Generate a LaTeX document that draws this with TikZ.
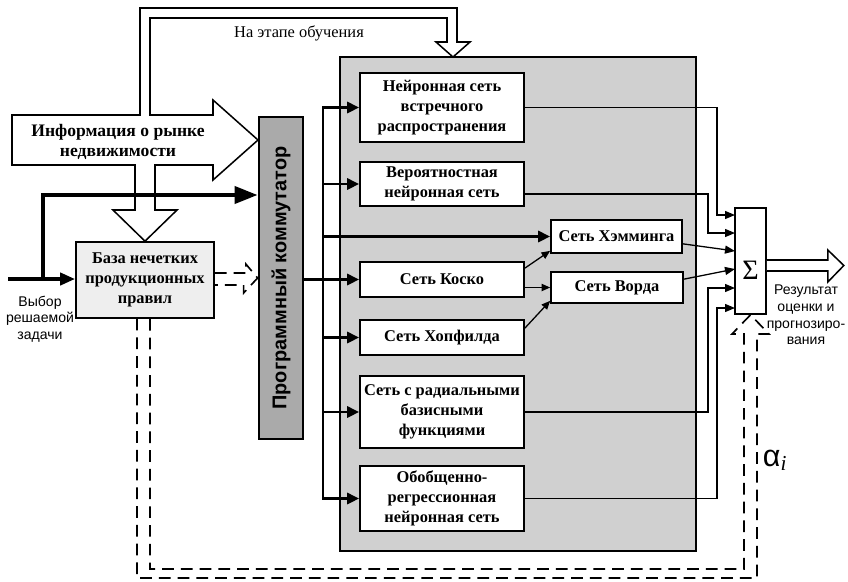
\documentclass[tikz,border=0pt]{standalone}
\usepackage{fontspec}
\setmainfont{Liberation Serif}
\setsansfont{Liberation Sans}
\usetikzlibrary{arrows.meta, positioning, calc}

\definecolor{poolgray}{HTML}{D0D0D0}
\definecolor{switchgray}{HTML}{AAAAAA}
\definecolor{basegray}{HTML}{EEEEEE}

\begin{document}
\begin{tikzpicture}[
        x=0.3mm, y=-0.3mm,
        box/.style={draw, line width=1.4pt, fill=white, inner sep=0pt,
                     font=\fontsize{14}{17}\selectfont\bfseries, align=center},
        lbl/.style={font=\sffamily\fontsize{12}{14.2}\selectfont, align=center},
        bus/.style={-{Triangle[length=3.6mm, width=3.3mm]}, line width=2.4pt},
        feed/.style={-{Triangle[length=3mm, width=2.4mm]}, line width=1.1pt},
        sml/.style={-{Triangle[length=2.6mm, width=2.2mm]}, line width=1.1pt},
        big/.style={line width=3.4pt},
        hollow/.style={line width=1.3pt, fill=white},
        dsh/.style={line width=1.4pt, dash pattern=on 10pt off 6pt}
      ]
        \useasboundingbox (0,0) rectangle (848,581);

        \node[draw, line width=1.4pt, fill=poolgray, inner sep=0pt,
              minimum width=106.8mm, minimum height=148.2mm] (pool) at (518,304) {};
        \node[draw, line width=2.4pt, fill=switchgray, inner sep=0pt,
              minimum width=13.2mm, minimum height=96.6mm,
              font=\sffamily\bfseries\fontsize{17}{17}\selectfont] (sw) at (281,278)
              {\rotatebox{90}{Программный коммутатор}};
        \node[box, fill=basegray, minimum width=41.4mm, minimum height=22.8mm] (kb) at (145,280)
              {База нечетких\\продукционных\\правил};

        \node[box, minimum width=49.2mm, minimum height=20.7mm] (nv) at (442,107.5)
              {Нейронная сеть\\встречного\\распространения};
        \node[box, minimum width=49.2mm, minimum height=13.2mm] (vr) at (442,184)
              {Вероятностная\\нейронная сеть};
        \node[box, minimum width=39.3mm, minimum height=9.9mm] (hm) at (616.5,236.5) {Сеть Хэмминга};
        \node[box, minimum width=49.2mm, minimum height=10.5mm] (ks) at (442,279.5) {Сеть Коско};
        \node[box, minimum width=39.6mm, minimum height=9.3mm] (vd) at (617,287.5) {Сеть Ворда};
        \node[box, minimum width=49.2mm, minimum height=10.5mm] (hp) at (442,337.5) {Сеть Хопфилда};
        \node[box, minimum width=49.2mm, minimum height=21.6mm] (rb) at (442,412)
              {Сеть с радиальными\\базисными\\функциями};
        \node[box, minimum width=49.2mm, minimum height=19.5mm] (gr) at (442,498.5)
              {Обобщенно-\\регрессионная\\нейронная сеть};
        \node[box, minimum width=9.3mm, minimum height=31.8mm] (sg) at (750.5,261) {};
        \node[font=\fontsize{24}{24}\selectfont] (sgl) at ([yshift=-2.7mm]sg.center) {Σ};

        \draw[hollow] (12,115) -- (140,115) -- (140,8) -- (457,8) -- (457,42) -- (470,42)
              -- (453,57) -- (436,42) -- (447,42) -- (447,18) -- (150,18) -- (150,115)
              -- (213,115) -- (213,100) -- (258,140) -- (213,180) -- (213,165)
              -- (155,165) -- (155,210) -- (177,210) -- (kb.north) -- (113,210)
              -- (135,210) -- (135,165) -- (12,165) -- cycle;
        \node[font=\fontsize{15}{17}\selectfont\bfseries, align=center] (inf) at (118,142)
              {Информация о рынке\\недвижимости};
        \node[font=\fontsize{14}{16}\selectfont] (tr) at (299,33) {На этапе обучения};

        \coordinate (in) at (8,279);
        \coordinate (br) at (43,279);
        \coordinate (up) at (43,195);
        \draw[big, -{Triangle[length=4.5mm, width=3.6mm]}] (in) -- (kb.west |- in);
        \draw[big, -{Triangle[length=6.9mm, width=5.1mm]}] (br) -- (up) -- (up -| sw.west);

        \coordinate (bt) at (323,0);
        \draw[bus] (sw.east |- ks.west) -- (ks.west);
        \draw[line width=2.4pt, line cap=rect] (bt |- nv.west) -- (bt |- gr.west);
        \foreach \n in {nv,vr,hm,hp,rb,gr}
          \draw[bus] (bt |- \n.west) -- (\n.west);

        \coordinate (xo) at (717,0);
        \coordinate (xi) at (708,0);
        \coordinate (s1) at (735,215);
        \coordinate (s2) at (735,233);
        \coordinate (s3) at (735,251);
        \coordinate (s4) at (735,269);
        \coordinate (s5) at (735,288);
        \coordinate (s6) at (735,308);
        \draw[feed] (nv.east) -| (xo |- s1) -- (s1);
        \draw[feed] ([yshift=-3mm]vr.east) -| (xi |- s2) -- (s2);
        \draw[feed] ([yshift=-2.2mm]hm.east) -- (s3);
        \draw[feed] ([yshift=2.5mm]vd.east) -- (s4);
        \draw[feed] (rb.east) -| (xi |- s5) -- (s5);
        \draw[feed] (gr.east) -| (xo |- s6) -- (s6);

        \draw[sml] ([yshift=3.4mm]ks.east) -- ([yshift=0.9mm]hm.south west);
        \draw[sml] (ks.east |- vd.west) -- (vd.west);
        \draw[sml] ([yshift=2.8mm]hp.east) -- ([yshift=0.9mm]vd.south west);

        \draw[dsh] ([yshift=2.1mm]kb.east) -- ++(31,0) -- ++(0,-9) -- (sw.west)
              -- ++(-14,15) -- ++(0,-8) -- ([yshift=-1.5mm]kb.east);
        \draw[dsh] ([xshift=1.5mm]kb.south) |- (744,569) -- (744,334) -- (732,334) -- (sg.south)
              -- (769,334) -- (757,334) |- (137,578) -- ([xshift=-2.4mm]kb.south);

        \draw[hollow] ([yshift=0.3mm]sg.east) -- ++(61,0) -- ++(0,-10) -- ++(16,15.5)
              -- ++(-16,16.5) -- ++(0,-11) -- ([yshift=-3mm]sg.east);

        \node[lbl] (res) at (806,315) {Результат\\оценки и\\прогнозиро-\\вания};
        \node[lbl] (vyb) at (40,319) {Выбор\\решаемой\\задачи};
        \node[font=\sffamily\fontsize{26}{26}\selectfont] (al) at (775,460)
              {α\textsubscript{\rmfamily\itshape i}};
      \end{tikzpicture}
\end{document}
